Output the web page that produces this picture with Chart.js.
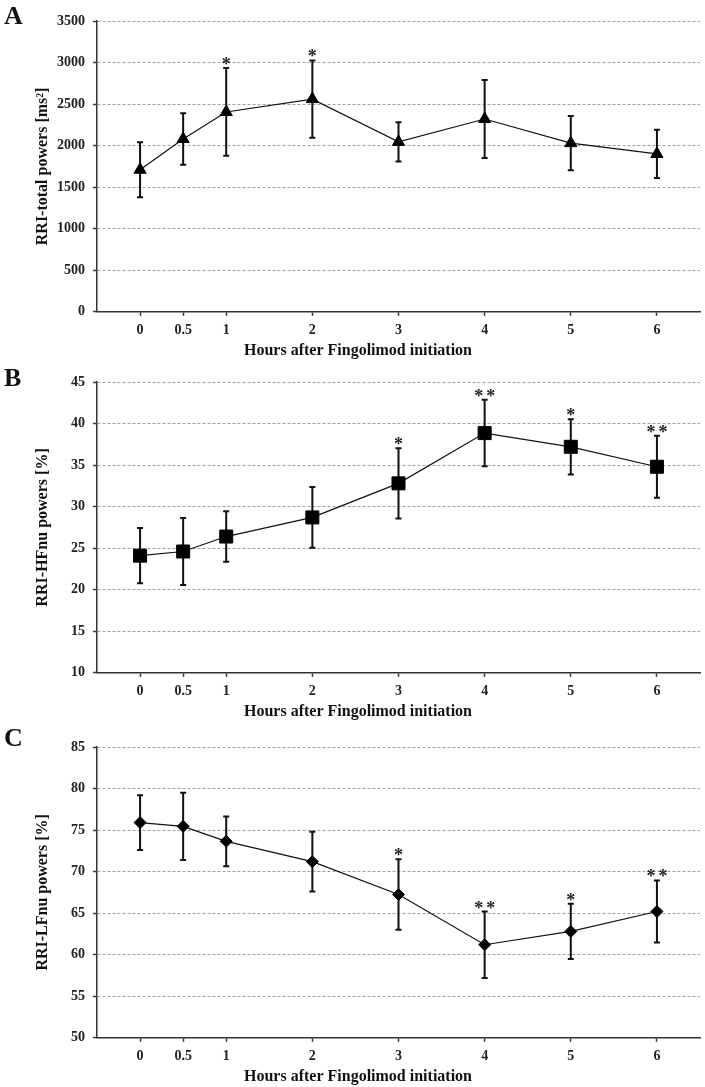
<!DOCTYPE html>
<html lang="en">
<head>
<meta charset="UTF-8">
<title>RRI powers after Fingolimod initiation</title>
<script src="https://cdn.jsdelivr.net/npm/chart.js"></script>
<style>
  body {
    margin: 0;
    background: #fff;
    width: 705px;
    height: 1087px;
    overflow: hidden;
    position: relative;
    font-family: "Liberation Serif", "Times New Roman", serif;
  }
  .panel {
    position: absolute;
    left: 0;
    width: 705px;
    height: 361px;
  }
  .letter {
    position: absolute;
    left: 4px;
    font-weight: bold;
    font-size: 26px;
    line-height: 1;
    color: #111;
  }
</style>
</head>
<body>

<div class="panel" style="top:0px"><canvas id="chartA" width="705" height="361"></canvas></div>
<div class="panel" style="top:361px"><canvas id="chartB" width="705" height="361"></canvas></div>
<div class="panel" style="top:726px"><canvas id="chartC" width="705" height="361"></canvas></div>
<div class="letter" style="top:3px">A</div>
<div class="letter" style="top:365px">B</div>
<div class="letter" style="top:725px">C</div>

<script>
// hours after the first dose
const hours = [0, 0.5, 1, 2, 3, 4, 5, 6];

// A: RRI total power (ms²), mean and SD
const totalMean = [1710, 2080, 2405, 2560, 2045, 2320, 2030, 1900];
const totalSd   = [330, 310, 528, 466, 235, 470, 327, 290];
const totalSig  = ['', '', '*', '*', '', '', '', ''];

// B: RRI HF normalised units (%)
const hfMean = [24.1, 24.6, 26.4, 28.7, 32.8, 38.85, 37.2, 34.8];
const hfSd   = [3.33, 4.03, 3.03, 3.65, 4.24, 4.0, 3.33, 3.74];
const hfSig  = ['', '', '', '', '*', '**', '*', '**'];

// C: RRI LF normalised units (%)
const lfMean = [75.9, 75.45, 73.65, 71.2, 67.25, 61.2, 62.8, 65.2];
const lfSd   = [3.3, 4.04, 3.0, 3.6, 4.24, 4.0, 3.33, 3.74];
const lfSig  = ['', '', '', '', '*', '**', '*', '**'];

const FONT = '"Liberation Serif", "Times New Roman", serif';

function makePanel(id, means, sds, sigs, yMin, yMax, yStep, yTitle, marker, markerRadius) {
  // error bars go under the line, stars on top
  const marks = {
    id: 'marks_' + id,
    beforeDatasetsDraw(chart) {
      const {ctx, scales: {x, y}} = chart;
      ctx.save();
      ctx.strokeStyle = '#111';
      ctx.lineWidth = 2;
      means.forEach((m, i) => {
        const px = x.getPixelForValue(hours[i]);
        const top = y.getPixelForValue(m + sds[i]);
        const bot = y.getPixelForValue(m - sds[i]);
        ctx.beginPath();
        ctx.moveTo(px, top); ctx.lineTo(px, bot);
        ctx.moveTo(px - 3, top); ctx.lineTo(px + 3, top);
        ctx.moveTo(px - 3, bot); ctx.lineTo(px + 3, bot);
        ctx.stroke();
      });
      ctx.restore();
    },
    afterDatasetsDraw(chart) {
      const {ctx, scales: {x, y}} = chart;
      ctx.save();
      ctx.font = 'bold 18px ' + FONT;
      ctx.fillStyle = '#222';
      ctx.textAlign = 'center';
      ctx.textBaseline = 'alphabetic';
      sigs.forEach((s, i) => {
        if (!s) return;
        const px = x.getPixelForValue(hours[i]);
        const top = y.getPixelForValue(means[i] + sds[i]);
        ctx.letterSpacing = s.length > 1 ? '3px' : '0px';
        ctx.fillText(s, px + (s.length > 1 ? 1.5 : 0), top + 2);
      });
      ctx.restore();
    }
  };

  return new Chart(document.getElementById(id), {
    type: 'line',
    data: {
      datasets: [{
        data: hours.map((h, i) => ({x: h, y: means[i]})),
        borderColor: '#111',
        borderWidth: 1.2,
        pointStyle: marker,
        pointRadius: markerRadius,
        pointBackgroundColor: '#000',
        pointBorderColor: '#000',
        pointBorderWidth: 1,
        tension: 0,
        fill: false,
        clip: false
      }]
    },
    options: {
      responsive: false,
      animation: false,
      events: [],
      layout: {autoPadding: false, padding: {left: 16, right: 5, top: 21, bottom: 1}},
      plugins: {
        legend: {display: false},
        tooltip: {enabled: false},
        title: {
          display: true,
          position: 'bottom',
          text: 'Hours after Fingolimod initiation',
          color: '#111',
          font: {family: FONT, size: 16, weight: 'bold'},
          padding: {top: 1, bottom: 0}
        }
      },
      scales: {
        x: {
          type: 'linear',
          min: -0.5,
          max: 6.5,
          afterBuildTicks: s => { s.ticks = hours.map(v => ({value: v})); },
          afterFit: s => { s.height = 28; },
          ticks: {
            color: '#222',
            font: {family: FONT, size: 14, weight: 'bold'},
            padding: 6,
            maxRotation: 0,
            autoSkip: false,
            callback: v => String(v)
          },
          grid: {drawOnChartArea: false, drawTicks: true, tickLength: 4, tickColor: '#333', tickWidth: 1.5},
          border: {color: '#333', width: 1.5}
        },
        y: {
          min: yMin,
          max: yMax,
          afterFit: s => { s.width = 81; },
          ticks: {
            stepSize: yStep,
            color: '#222',
            font: {family: FONT, size: 14, weight: 'bold'},
            padding: 8,
            callback: v => String(v)
          },
          title: {
            display: true,
            text: yTitle,
            color: '#111',
            font: {family: FONT, size: 16, weight: 'bold'},
            padding: {top: 17, bottom: 0}
          },
          grid: {
            color: c => (c.tick && c.tick.value === yMin) ? 'rgba(0,0,0,0)' : '#a0a0a0',
            lineWidth: 1,
            tickLength: 4,
            tickColor: '#333',
            tickWidth: 1.5
          },
          border: {color: '#333', width: 1.5, dash: [3, 2]}
        }
      }
    },
    plugins: [marks]
  });
}

makePanel('chartA', totalMean, totalSd, totalSig, 0, 3500, 500, 'RRI-total powers [ms²]', 'triangle', 7);
makePanel('chartB', hfMean, hfSd, hfSig, 10, 45, 5, 'RRI-HFnu powers [%]', 'rect', 9.2);
makePanel('chartC', lfMean, lfSd, lfSig, 50, 85, 5, 'RRI-LFnu powers [%]', 'rectRot', 6);
</script>

</body>
</html>
